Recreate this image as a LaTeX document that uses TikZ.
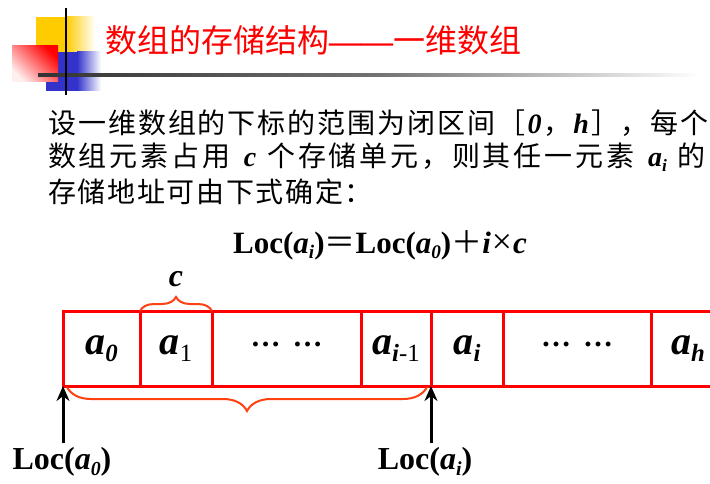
\documentclass[tikz,border=0pt]{standalone}
\usepackage{fontspec}
\usepackage{graphicx}
\setmainfont{Liberation Serif}
\newfontfamily\cjk{Noto Sans CJK SC}
\usepackage{tikz}
\usetikzlibrary{arrows.meta,positioning,decorations.pathreplacing}

\definecolor{logoyellow}{RGB}{255,204,0}
\definecolor{logoblue}{RGB}{51,51,204}
\definecolor{bracered}{RGB}{255,64,16}

% lowered, smaller index after an element name
\newcommand{\lowsub}[1]{\raisebox{-0.4ex}{\scalebox{0.62}{#1}}}
\newcommand{\bi}[1]{\textbf{\textit{#1}}}
\newcommand{\dotsrow}{\fontsize{30}{33}\selectfont\raisebox{0.28em}{\textbf{…\hspace{12pt}…}}}

\begin{document}
\begin{tikzpicture}[x=1pt, y=-1pt,
    cell/.style={draw=red, line width=3pt, minimum height=75pt, inner sep=0pt,
                 outer sep=0pt, font=\fontsize{40}{44}\selectfont},
    brc/.style={decorate, draw=bracered, line width=2pt},
    uparr/.style={-{Stealth[length=15pt, width=13pt]}, line width=3pt},
    loclab/.style={font=\fontsize{32}{36}\selectfont\bfseries, inner sep=2pt},
    body/.style={font=\fontsize{28}{34}\selectfont, anchor=west, inner sep=0pt},
    heading/.style={font=\fontsize{32}{36}\selectfont\cjk, anchor=west, inner sep=0pt},
  ]
    \useasboundingbox (0,0) rectangle (710,484);
    \clip (0,0) rectangle (710,484);
    \fill[white] (0,0) rectangle (710,484);

    % slide logo
    \fill[logoyellow] (36,17) rectangle (67,52);
    \shade[left color=logoyellow, right color=white] (66,17) rectangle (95,52);
    \fill[logoblue] (46,52) rectangle (78,91);
    \shade[left color=logoblue, right color=white] (77,52) rectangle (101,91);
    \shade[top color=red, bottom color=red!6, shading angle=-45] (12,46) rectangle (58,82);
    \shade[left color=black!80, right color=black!55] (38,73.5) rectangle (380,76.5);
    \shade[left color=black!55, right color=white] (379,73.5) rectangle (700,76.5);
    \draw[line width=2.5pt] (66,8) -- (66,95);

    % heading
    \node[heading, text=red] (head) at (105,40)
      {数组的存储结构{\rmfamily\bfseries ——}一维数组};

    % explanation, spread to the full line width
    \node[body] (line1) at (48,123)
      {\addfontfeature{LetterSpace=7}{\cjk\addfontfeature{LetterSpace=7}设一维数组的下标的范围为闭区间［}\bi{0}%
       {\cjk\addfontfeature{LetterSpace=7}，}\bi{h}{\cjk\addfontfeature{LetterSpace=7}］，每个}};
    \node[body] (line2) at (48,157)
      {{\cjk\addfontfeature{LetterSpace=10}数组元素占用}\hspace{11pt}\bi{c}\hspace{11pt}%
       {\cjk\addfontfeature{LetterSpace=10}个存储单元，则其任一元素}\hspace{11pt}%
       \bi{a}\lowsub{\bi{i}}\hspace{11pt}{\cjk 的}};
    \node[body] (line3) at (48,192) {{\cjk\addfontfeature{LetterSpace=6}存储地址可由下式确定：}};

    \node[font=\fontsize{31}{36}\selectfont\bfseries] (formula) at (380,245)
      {Loc(\textit{a}\lowsub{\textit{i}}){\mdseries\cjk ＝}%
       Loc(\textit{a}\lowsub{\textit{0}}){\mdseries\cjk ＋}\textit{i}\kern1pt{\mdseries\scalebox{1.15}{×}}\kern1pt\textit{c}};

    % storage cells
    \node[cell, minimum width=77pt, anchor=west] (c0) at (63,348.5) {\bi{a}\lowsub{\bi{0}}};
    \node[cell, minimum width=72pt, right=0pt of c0] (c1) {\bi{a}\lowsub{1}};
    \node[cell, minimum width=149pt, right=0pt of c1] (d1) {\dotsrow};
    \node[cell, minimum width=70pt, right=0pt of d1] (ci1) {\bi{a}\lowsub{\bi{i}-1}};
    \node[cell, minimum width=72pt, right=0pt of ci1] (ci) {\bi{a}\lowsub{\bi{i}}};
    \node[cell, minimum width=148pt, right=0pt of ci] (d2) {\dotsrow};
    \node[cell, minimum width=74pt, right=0pt of d2] (ch) {\bi{a}\lowsub{\bi{h}}};

    % size of one element
    \draw[brc, decoration={brace, amplitude=14pt}]
      (c1.north west) -- (c1.north east);
    \node[font=\fontsize{32}{36}\selectfont, inner sep=0pt, above=24pt of c1.north] (csize) {\bi{c}};

    % elements before a_i
    \draw[brc, decoration={brace, mirror, amplitude=24pt, raise=1pt}]
      ([xshift=4pt]c0.south west) -- ([xshift=-4pt]ci1.south east);

    % addresses
    \node[loclab] (loc0) at (62,462) {Loc(\textit{a}\lowsub{\textit{0}})};
    \node[loclab] (loci) at (425,462) {Loc(\textit{a}\lowsub{\textit{i}})};
    \draw[uparr] ([yshift=2pt]loc0.north -| c0.south west) -- (c0.south west);
    \draw[uparr] ([yshift=2pt]loci.north -| ci.south west) -- (ci.south west);
  \end{tikzpicture}
\end{document}
